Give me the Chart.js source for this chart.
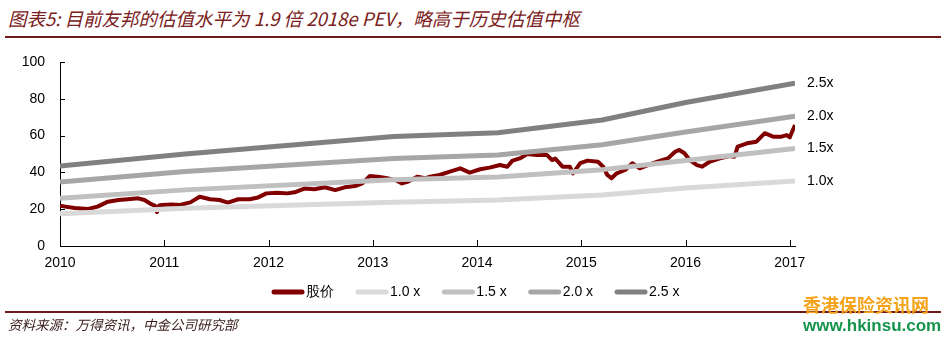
<!DOCTYPE html>
<html>
<head>
<meta charset="utf-8">
<script src="https://cdn.jsdelivr.net/npm/chart.js@4.4.1/dist/chart.umd.min.js"></script>
<style>
  html, body { margin: 0; padding: 0; background: #fff; }
  body { width: 947px; height: 339px; position: relative; overflow: hidden; }
  #chart { position: absolute; left: 0; top: 0; }
  .title { position: absolute; left: 8px; top: 5px; font: italic 18.5px "Noto Sans CJK SC", sans-serif; color: #7b2020; white-space: nowrap; }
  .rule { position: absolute; left: 5px; width: 936px; background: #6e1818; }
  .source { position: absolute; left: 8px; top: 314px; font: italic 13.5px "Noto Sans CJK SC", sans-serif; color: #3c2020; white-space: nowrap; }
  .wm1 { position: absolute; left: 803px; top: 291px; font: bold 18px "Noto Sans CJK SC", sans-serif; color: #f5a31a; white-space: nowrap; }
  .wm2 { position: absolute; left: 803px; top: 316px; font: bold 17px "Liberation Sans", Arial, sans-serif; color: #14944c; white-space: nowrap; }
</style>
</head>
<body>
<div class="title">图表5: 目前友邦的估值水平为 1.9 倍 2018e PEV，略高于历史估值中枢</div>
<div class="rule" style="top:36px;height:2px;"></div>
<canvas id="chart" width="947" height="339"></canvas>
<div class="rule" style="top:311px;height:1.5px;"></div>
<div class="source">资料来源：万得资讯，中金公司研究部</div>
<div class="wm1">香港保险资讯网</div>
<div class="wm2">www.hkinsu.com</div>
<script>
// share price
const priceYears = [
  2010.00, 2010.05, 2010.14, 2010.27, 2010.36, 2010.46, 2010.56, 2010.65, 2010.75, 2010.81,
  2010.88, 2010.91, 2010.93, 2010.95, 2010.98, 2011.07, 2011.15, 2011.25, 2011.34, 2011.44,
  2011.53, 2011.61, 2011.71, 2011.82, 2011.90, 2011.98, 2012.08, 2012.18, 2012.25, 2012.35,
  2012.44, 2012.54, 2012.64, 2012.73, 2012.83, 2012.90, 2012.97, 2013.05, 2013.14, 2013.23,
  2013.28, 2013.34, 2013.43, 2013.50, 2013.55, 2013.64, 2013.74, 2013.84, 2013.93, 2014.03,
  2014.12, 2014.22, 2014.29, 2014.34, 2014.41, 2014.48, 2014.57, 2014.67, 2014.72, 2014.75,
  2014.79, 2014.82, 2014.89, 2014.92, 2014.99, 2015.06, 2015.16, 2015.21, 2015.25, 2015.29,
  2015.34, 2015.42, 2015.49, 2015.56, 2015.64, 2015.73, 2015.83, 2015.90, 2015.94, 2015.99,
  2016.04, 2016.11, 2016.16, 2016.23, 2016.33, 2016.42, 2016.47, 2016.50, 2016.59, 2016.68,
  2016.76, 2016.84, 2016.92, 2016.97, 2017.00, 2017.05
];
const priceValues = [
  21.9, 21.4, 20.6, 20.1, 21.4, 24.1, 25.0, 25.4, 25.9, 25.0,
  22.6, 22.0, 18.4, 22.0, 22.3, 22.6, 22.3, 23.7, 26.8, 25.4,
  25.0, 23.6, 25.4, 25.4, 26.4, 28.6, 29.0, 28.6, 29.2, 31.3,
  30.8, 31.9, 30.4, 31.9, 32.6, 34.0, 38.0, 37.7, 36.8, 35.5,
  34.0, 35.0, 37.7, 36.8, 37.7, 38.6, 40.4, 42.2, 39.9, 41.7,
  42.6, 44.0, 43.1, 46.4, 47.6, 50.0, 49.5, 49.5, 46.7, 47.5,
  45.0, 43.1, 43.1, 39.5, 45.0, 46.4, 45.8, 43.1, 38.6, 36.8,
  39.5, 41.3, 45.0, 42.2, 44.0, 45.8, 47.6, 51.2, 52.2, 50.4,
  46.7, 44.0, 43.1, 45.8, 47.6, 48.9, 48.5, 54.0, 55.8, 56.7,
  61.3, 59.4, 59.4, 60.3, 59.1, 65.8
];

// PEV bands
const bandYears = [2010, 2011.2, 2013.2, 2014.2, 2015.2, 2016, 2017.05];
const band10 = [17.5, 20.5, 23.8, 25.0, 27.7, 31.5, 35.3];
const band15 = [26.0, 30.5, 36.0, 37.5, 41.5, 46.5, 53.0];
const band20 = [34.8, 40.5, 47.6, 49.5, 55.0, 62.0, 70.5];
const band25 = [43.5, 50.0, 59.5, 61.5, 68.5, 78.0, 88.5];

const legendLabels = ['股价', '1.0 x', '1.5 x', '2.0 x', '2.5 x'];
const endLabels = ['1.0x', '1.5x', '2.0x', '2.5x'];
const yearTicks = [2010, 2011, 2012, 2013, 2014, 2015, 2016, 2017];
const colors = ['#800000', '#d9d9d9', '#c0c0c0', '#a6a6a6', '#808080'];

const toPoints = (xs, ys) => xs.map((x, i) => ({ x: x, y: ys[i] }));

const datasets = [
  { label: legendLabels[0], data: toPoints(priceYears, priceValues), borderColor: colors[0], borderWidth: 4, order: 9 },
  { label: legendLabels[1], data: toPoints(bandYears, band10), borderColor: colors[1], borderWidth: 5, order: 4 },
  { label: legendLabels[2], data: toPoints(bandYears, band15), borderColor: colors[2], borderWidth: 5, order: 3 },
  { label: legendLabels[3], data: toPoints(bandYears, band20), borderColor: colors[3], borderWidth: 5, order: 2 },
  { label: legendLabels[4], data: toPoints(bandYears, band25), borderColor: colors[4], borderWidth: 5, order: 1 },
].map(d => Object.assign({ pointRadius: 0, tension: 0, fill: false, borderJoinStyle: 'round' }, d));

// small inward tick marks on both axes
const innerTicks = {
  id: 'innerTicks',
  afterDraw(chart) {
    const { ctx, chartArea, scales } = chart;
    ctx.save();
    ctx.strokeStyle = '#000';
    ctx.lineWidth = 1;
    ctx.beginPath();
    scales.y.ticks.forEach(t => {
      const y = Math.round(scales.y.getPixelForValue(t.value)) + 0.5;
      ctx.moveTo(chartArea.left, y);
      ctx.lineTo(chartArea.left + 5, y);
    });
    yearTicks.forEach(v => {
      const x = Math.round(scales.x.getPixelForValue(v)) + 0.5;
      ctx.moveTo(x, chartArea.bottom);
      ctx.lineTo(x, chartArea.bottom - 6);
    });
    ctx.stroke();
    ctx.restore();
  }
};

// multiple labels at the right end of each band
const bandLabels = {
  id: 'bandLabels',
  afterDatasetsDraw(chart) {
    const ctx = chart.ctx;
    ctx.save();
    ctx.font = '14px "Liberation Sans", Arial, sans-serif';
    ctx.fillStyle = '#000';
    ctx.textBaseline = 'middle';
    ctx.textAlign = 'left';
    for (let i = 1; i <= 4; i++) {
      const pts = chart.getDatasetMeta(i).data;
      const last = pts[pts.length - 1];
      ctx.fillText(endLabels[i - 1], last.x + 12, last.y);
    }
    ctx.restore();
  }
};

// legend row under the axis
const legendRow = {
  id: 'legendRow',
  afterDraw(chart) {
    const ctx = chart.ctx;
    ctx.save();
    ctx.font = '14px "Liberation Sans", Arial, sans-serif';
    ctx.textBaseline = 'middle';
    let x = 272;
    const y = 292;
    chart.data.datasets.forEach((ds, i) => {
      ctx.strokeStyle = ds.borderColor;
      ctx.lineWidth = 5;
      ctx.lineCap = 'round';
      ctx.beginPath();
      ctx.moveTo(x + 2, y);
      ctx.lineTo(x + 30, y);
      ctx.stroke();
      ctx.fillStyle = '#000';
      ctx.fillText(ds.label, x + 34, y);
      x += 34 + ctx.measureText(ds.label).width + 22;
    });
    ctx.restore();
  }
};

new Chart(document.getElementById('chart'), {
  type: 'line',
  data: { datasets: datasets },
  options: {
    responsive: false,
    animation: false,
    devicePixelRatio: 1,
    layout: { padding: { left: 0, top: 62, right: 152, bottom: 68 } },
    plugins: { legend: { display: false }, tooltip: { enabled: false } },
    scales: {
      x: {
        type: 'linear',
        min: 2010,
        max: 2017.05,
        afterBuildTicks: (axis) => { axis.ticks = yearTicks.map(v => ({ value: v })); },
        afterFit: (axis) => { axis.height = 25; },
        grid: { display: false, drawTicks: false, tickLength: 0 },
        border: { display: true, color: '#000', width: 1 },
        ticks: {
          padding: 9,
          color: '#000',
          maxRotation: 0,
          font: { family: '"Liberation Sans", Arial, sans-serif', size: 14 },
          callback: (v) => String(v)
        }
      },
      y: {
        min: 0,
        max: 100,
        afterFit: (axis) => { axis.width = 60; },
        grid: { display: false, drawTicks: false, tickLength: 0 },
        border: { display: true, color: '#000', width: 1 },
        ticks: {
          stepSize: 20,
          padding: 15,
          color: '#000',
          font: { family: '"Liberation Sans", Arial, sans-serif', size: 14 }
        }
      }
    }
  },
  plugins: [innerTicks, bandLabels, legendRow]
});
</script>
</body>
</html>
